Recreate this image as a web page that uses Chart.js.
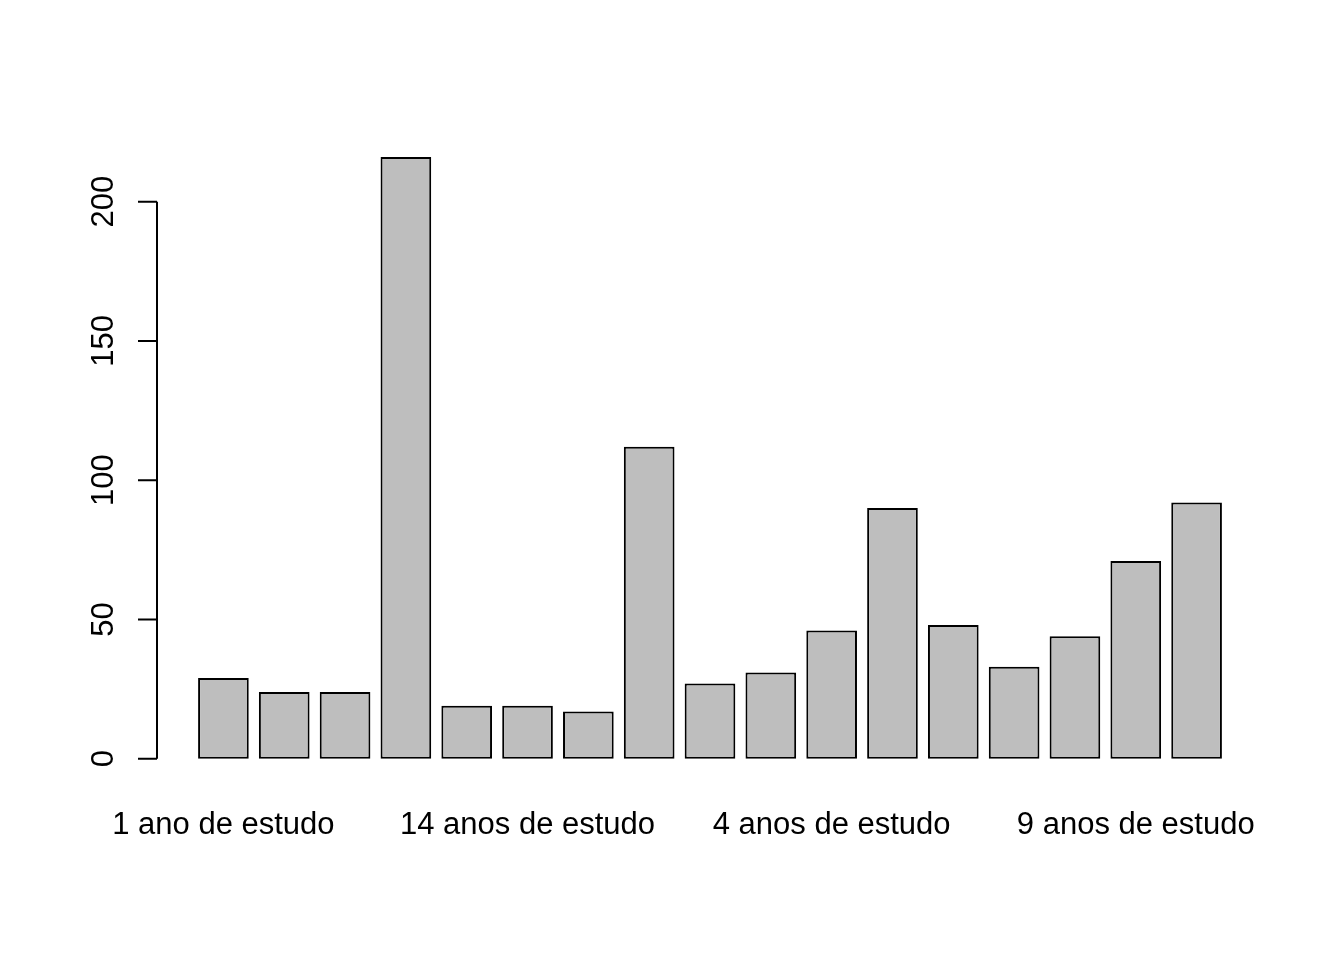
<!DOCTYPE html>
<html>
<head>
<meta charset="utf-8">
<script src="https://cdn.jsdelivr.net/npm/chart.js@4.4.1/dist/chart.umd.min.js"></script>
<style>
  html, body { margin: 0; padding: 0; background: #fff; }
  #wrap { width: 1344px; height: 960px; }
</style>
</head>
<body>
<div id="wrap"><canvas id="chart"></canvas></div>
<script>
// Categories (sorted as in the R factor) and counts
const categories = [
    "1 ano de estudo", "10 anos de estudo", "11 anos de estudo", "12 anos de estudo",
    "13 anos de estudo", "14 anos de estudo", "15 anos de estudo", "16 anos ou mais de estudo",
    "2 anos de estudo", "3 anos de estudo", "4 anos de estudo", "5 anos de estudo",
    "6 anos de estudo", "7 anos de estudo", "8 anos de estudo", "9 anos de estudo",
    "Sem instrução e menos de 1 ano"
];
const counts = [29, 24, 24, 216, 19, 19, 17, 112, 27, 31, 46, 90, 48, 33, 44, 71, 92];
const yTicks = [0, 50, 100, 150, 200];
// only these category labels fit without overlapping
const shownLabels = [0, 5, 10, 15];

const FONT = '"Liberation Sans", Arial, sans-serif';

// R style y axis: line only over the tick range, rotated labels
const rAxis = {
    id: 'rAxis',
    afterDraw(chart) {
        const ctx = chart.ctx;
        const y = chart.scales.y;
        const axisX = chart.chartArea.left - 36;
        const top = y.getPixelForValue(yTicks[yTicks.length - 1]);
        const bottom = y.getPixelForValue(yTicks[0]);
        ctx.save();
        ctx.strokeStyle = '#000';
        ctx.lineWidth = 2;
        ctx.beginPath();
        ctx.moveTo(axisX, top);
        ctx.lineTo(axisX, bottom);
        yTicks.forEach(v => {
            const py = y.getPixelForValue(v);
            ctx.moveTo(axisX, py);
            ctx.lineTo(axisX - 19, py);
        });
        ctx.stroke();

        ctx.fillStyle = '#000';
        ctx.font = '31px ' + FONT;
        ctx.textAlign = 'center';
        ctx.textBaseline = 'alphabetic';
        yTicks.forEach(v => {
            const py = y.getPixelForValue(v);
            ctx.save();
            ctx.translate(axisX - 44, py);
            ctx.rotate(-Math.PI / 2);
            ctx.fillText(String(v), 0, 0);
            ctx.restore();
        });
        ctx.restore();
    }
};

new Chart(document.getElementById('chart'), {
    type: 'bar',
    data: {
        labels: categories,
        datasets: [{
            data: counts,
            backgroundColor: '#BEBEBE',
            borderColor: '#000',
            borderWidth: 2,
            borderSkipped: false,
            barPercentage: 0.833,
            categoryPercentage: 1
        }]
    },
    options: {
        responsive: true,
        maintainAspectRatio: false,
        animation: false,
        devicePixelRatio: 1,
        layout: { padding: { left: 193, right: 117, top: 133, bottom: 92 } },
        plugins: { legend: { display: false }, tooltip: { enabled: false } },
        scales: {
            x: {
                grid: { display: false, drawTicks: false },
                border: { display: false },
                ticks: {
                    autoSkip: false,
                    maxRotation: 0,
                    minRotation: 0,
                    padding: 24,
                    color: '#000',
                    font: { size: 31, family: FONT },
                    callback: (val, i) => shownLabels.includes(i) ? categories[i] : ''
                }
            },
            y: {
                display: false,
                min: -8.64,
                max: 224.64,
                afterBuildTicks: axis => { axis.ticks = yTicks.map(v => ({ value: v })); }
            }
        }
    },
    plugins: [rAxis]
});
</script>
</body>
</html>
